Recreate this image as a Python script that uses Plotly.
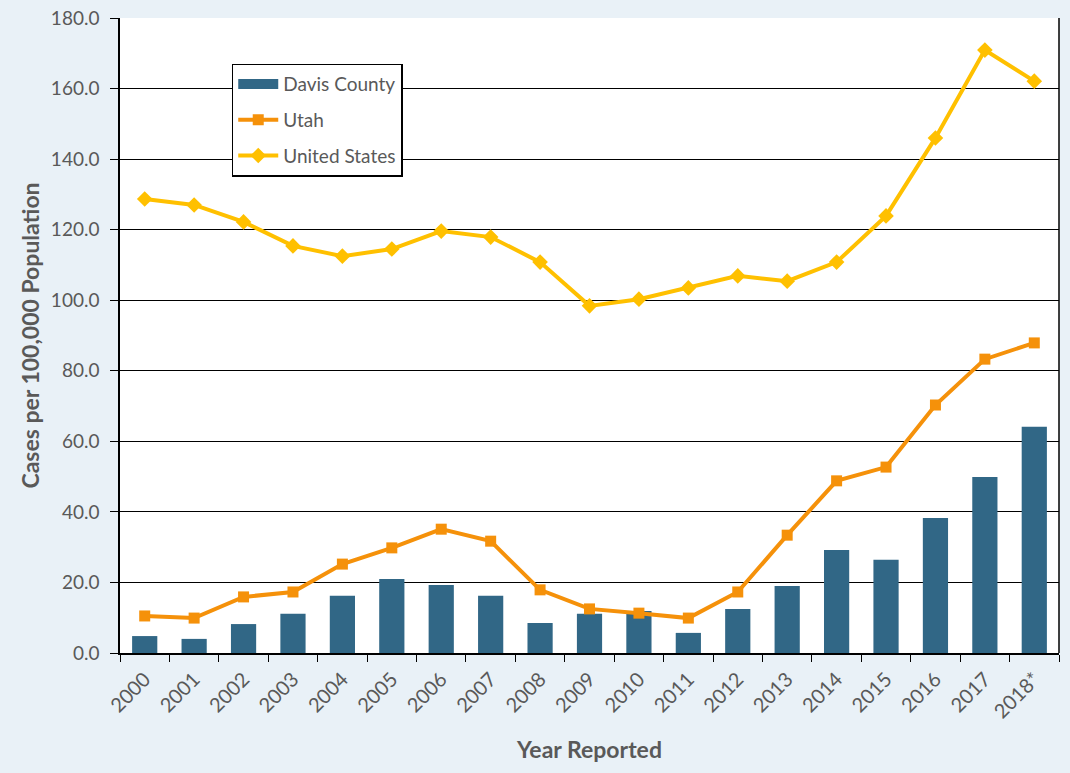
import plotly.graph_objects as go

years = ["2000", "2001", "2002", "2003", "2004", "2005", "2006", "2007", "2008", "2009",
         "2010", "2011", "2012", "2013", "2014", "2015", "2016", "2017", "2018*"]
davis = [4.8, 4.0, 8.2, 11.1, 16.2, 21.0, 19.3, 16.2, 8.5, 11.1,
         11.9, 5.7, 12.5, 19.0, 29.2, 26.4, 38.3, 49.9, 64.1]
utah = [10.5, 9.9, 15.9, 17.3, 25.2, 29.8, 35.1, 31.7, 17.9, 12.5,
        11.3, 9.9, 17.3, 33.4, 48.8, 52.7, 70.3, 83.3, 87.9]
us = [128.7, 127.0, 122.2, 115.4, 112.5, 114.5, 119.6, 117.9, 110.8, 98.4,
      100.3, 103.5, 106.9, 105.4, 110.8, 123.9, 146.0, 170.9, 162.1]
y_ticks = [0, 20, 40, 60, 80, 100, 120, 140, 160, 180]

FONT = "Lato"
GRAY = "#595959"
BLUE = "#316786"
ORANGE = "#F5910A"
YELLOW = "#FFC000"

fig = go.Figure()
fig.add_trace(go.Bar(x=years, y=davis, name="Davis County", marker_color=BLUE,
                     marker_line_width=0, showlegend=False, legendgroup="d"))
# legend entry for bars drawn as a wide block
fig.add_trace(go.Scatter(x=[None], y=[None], name="Davis County", mode="lines",
                         line=dict(color=BLUE, width=14), legendgroup="d"))
fig.add_trace(go.Scatter(x=years, y=utah, name="Utah", mode="lines+markers",
                         line=dict(color=ORANGE, width=4), legendgroup="u",
                         marker=dict(symbol="square", size=11, color=ORANGE)))
fig.add_trace(go.Scatter(x=years, y=us, name="United States", mode="lines+markers",
                         line=dict(color=YELLOW, width=4), legendgroup="s",
                         marker=dict(symbol="diamond", size=12, color=YELLOW)))

fig.update_layout(
    width=1070, height=773,
    paper_bgcolor="#E9F1F7", plot_bgcolor="white",
    margin=dict(l=120, r=11, t=18, b=120),
    bargap=0.49,
    font=dict(family=FONT, color=GRAY, size=19),
    showlegend=True,
    legend=dict(x=0.119, y=0.928, xanchor="left", yanchor="top",
                bgcolor="white", bordercolor="black", borderwidth=1.5,
                font=dict(size=19, color=GRAY), traceorder="grouped",
                tracegroupgap=8, itemwidth=40),
    xaxis=dict(type="category", range=[-0.5, len(years) - 0.5], tickangle=-45,
               ticks="outside", tickson="boundaries", ticklabelstandoff=5,
               ticklen=7, tickcolor="black", showline=True, linecolor="black",
               linewidth=1.5, showgrid=False, automargin=False,
               tickfont=dict(size=20, color=GRAY),
               title=dict(text="<b>Year Reported</b>", font=dict(size=23, color=GRAY),
                          standoff=20)),
    yaxis=dict(range=[0, 180], tickvals=y_ticks, tickformat=".1f", ticks="outside",
               ticklen=8, tickcolor="black", showline=True, linecolor="black",
               linewidth=1.5, showgrid=True, gridcolor="black", gridwidth=1,
               zeroline=False, automargin=False, tickfont=dict(size=19, color=GRAY),
               ticklabelstandoff=7,
               title=dict(text="<b>Cases per 100,000 Population</b>",
                          font=dict(size=23, color=GRAY), standoff=5)),
)
fig.add_shape(type="line", xref="paper", yref="paper", x0=1, x1=1, y0=0, y1=1,
              line=dict(color="black", width=1.5))

fig.write_html("out.html", config={"displayModeBar": False},
               post_script="document.body.style.margin='0';document.body.style.background='#E9F1F7';")
